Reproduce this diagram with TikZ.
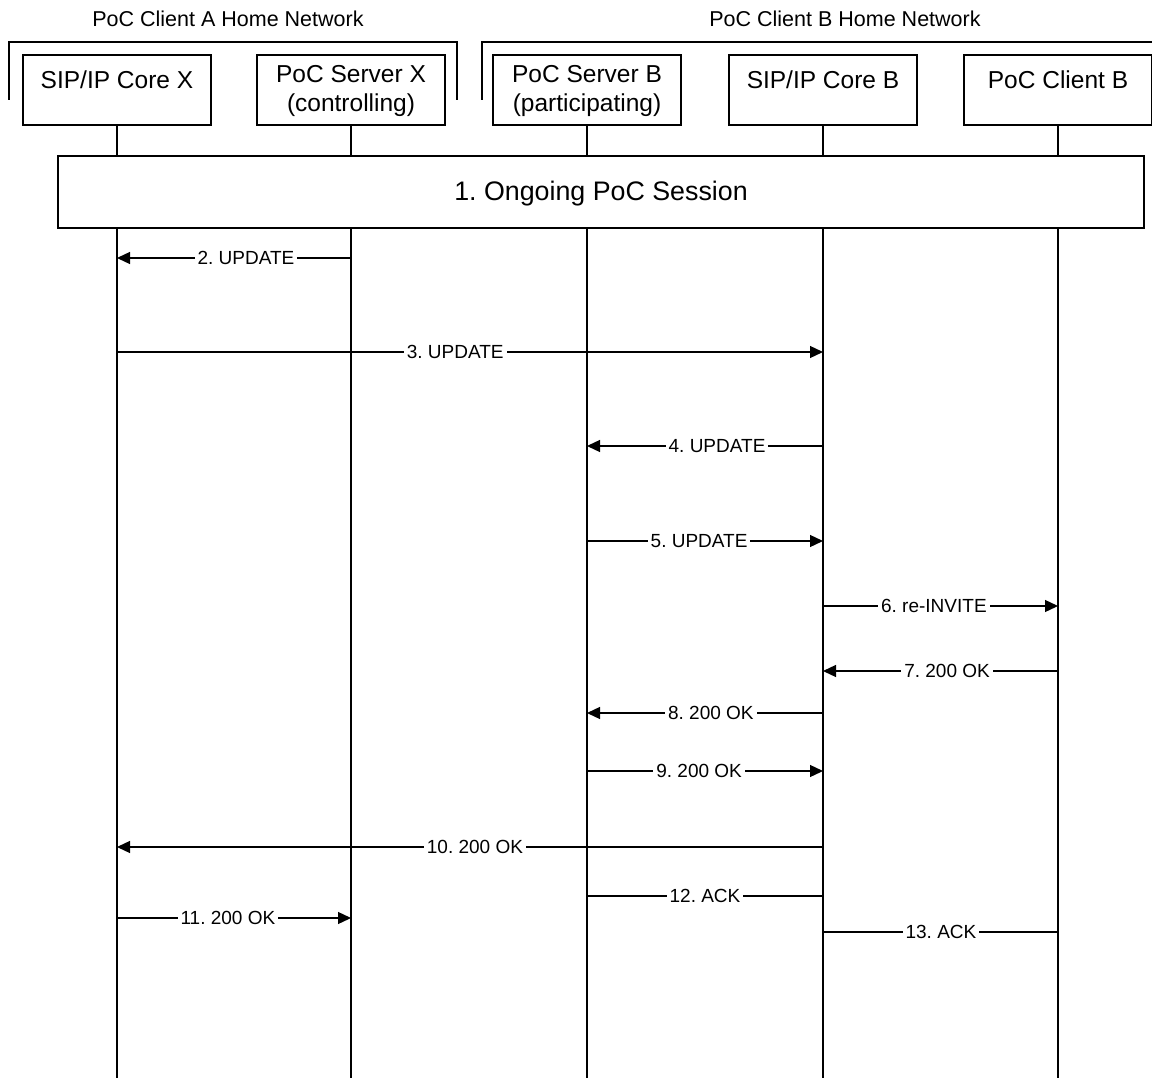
\documentclass[tikz,border=0pt]{standalone}
\usepackage{fontspec}
\setmainfont{Liberation Sans}
\usetikzlibrary{arrows.meta}
\frenchspacing
\tikzset{
  entbox/.style={draw, line width=1.5pt, minimum width=188pt, minimum height=70pt, inner sep=0pt},
  enttext/.style={anchor=base, inner sep=0pt, font=\fontsize{24.5}{28}\selectfont},
  nettext/.style={anchor=base, inner sep=0pt, font=\fontsize{21.5}{25}\selectfont},
  bracket/.style={line width=1.5pt},
  lifeline/.style={line width=1.5pt},
  sessbox/.style={draw, fill=white, line width=1.5pt, minimum width=1086pt, minimum height=72pt, inner sep=0pt},
  msg/.style={line width=1.3pt, -{Triangle[length=13pt,width=12pt]}},
  plainmsg/.style={line width=1.3pt},
  lbl/.style={fill=white, inner xsep=3pt, inner ysep=2pt, text height=13.6pt, text depth=0pt, font=\fontsize{19}{22}\selectfont}
}
\begin{document}
\begin{tikzpicture}[x=1pt,y=-1pt]
\useasboundingbox (0,0) rectangle (1152,1078);
% network titles
\node[nettext] (netA) at (228,27) {PoC Client A Home Network};
\node[nettext] (netB) at (845,27) {PoC Client B Home Network};
% brackets
\coordinate (brA1) at (9,100); \coordinate (brA2) at (9,42);
\coordinate (brA3) at (457,42); \coordinate (brA4) at (457,100);
\draw[bracket] (brA1) -- (brA2) -- (brA3) -- (brA4);
\coordinate (brB1) at (482,100); \coordinate (brB2) at (482,42);
\coordinate (brB3) at (1160,42);
\draw[bracket] (brB1) -- (brB2) -- (brB3);
% entity boxes
\node[entbox] (cx) at (117,90) {};
\node[entbox] (sx) at (351,90) {};
\node[entbox] (sb) at (587,90) {};
\node[entbox] (cb) at (823,90) {};
\node[entbox] (pb) at (1058,90) {};
\node[enttext] (cxt) at (117,89) {SIP/IP Core X};
\node[enttext] (sxt1) at (351,83) {PoC Server X};
\node[enttext] (sxt2) at (351,112) {(controlling)};
\node[enttext] (sbt1) at (587,83) {PoC Server B};
\node[enttext] (sbt2) at (587,112) {(participating)};
\node[enttext] (cbt) at (823,89) {SIP/IP Core B};
\node[enttext] (pbt) at (1058,89) {PoC Client B};
% lifeline ends
\coordinate (cxe) at (117,1080);
\coordinate (sxe) at (351,1080);
\coordinate (sbe) at (587,1080);
\coordinate (cbe) at (823,1080);
\coordinate (pbe) at (1058,1080);
\draw[lifeline] (cx.south) -- (cxe);
\draw[lifeline] (sx.south) -- (sxe);
\draw[lifeline] (sb.south) -- (sbe);
\draw[lifeline] (cb.south) -- (cbe);
\draw[lifeline] (pb.south) -- (pbe);
% session box
\node[sessbox] (sess) at (601,192) {};
\node[anchor=base, inner sep=0pt, font=\fontsize{26.8}{30}\selectfont] (sesst) at (601,201) {1. Ongoing PoC Session};
% message end points
\coordinate (m2a) at (351,258); \coordinate (m2b) at (117,258);
\coordinate (m3a) at (117,352); \coordinate (m3b) at (823,352);
\coordinate (m4a) at (823,446); \coordinate (m4b) at (587,446);
\coordinate (m5a) at (587,541); \coordinate (m5b) at (823,541);
\coordinate (m6a) at (823,606); \coordinate (m6b) at (1058,606);
\coordinate (m7a) at (1058,671); \coordinate (m7b) at (823,671);
\coordinate (m8a) at (823,713); \coordinate (m8b) at (587,713);
\coordinate (m9a) at (587,771); \coordinate (m9b) at (823,771);
\coordinate (m10a) at (823,847); \coordinate (m10b) at (117,847);
\coordinate (m12a) at (823,896); \coordinate (m12b) at (587,896);
\coordinate (m11a) at (117,918); \coordinate (m11b) at (351,918);
\coordinate (m13a) at (1058,932); \coordinate (m13b) at (823,932);
% messages
\draw[msg] (m2a) -- node[lbl, pos=0.449] (l2) {2. UPDATE} (m2b);
\draw[msg] (m3a) -- node[lbl, pos=0.479] (l3) {3. UPDATE} (m3b);
\draw[msg] (m4a) -- node[lbl, pos=0.449] (l4) {4. UPDATE} (m4b);
\draw[msg] (m5a) -- node[lbl, pos=0.475] (l5) {5. UPDATE} (m5b);
\draw[msg] (m6a) -- node[lbl, pos=0.472] (l6) {6. re-INVITE} (m6b);
\draw[msg] (m7a) -- node[lbl, pos=0.472] (l7) {7. 200 OK} (m7b);
\draw[msg] (m8a) -- node[lbl, pos=0.475] (l8) {8. 200 OK} (m8b);
\draw[msg] (m9a) -- node[lbl, pos=0.475] (l9) {9. 200 OK} (m9b);
\draw[msg] (m10a) -- node[lbl, pos=0.493] (l10) {10. 200 OK} (m10b);
\draw[plainmsg] (m12a) -- node[lbl, pos=0.5] (l12) {12. ACK} (m12b);
\draw[msg] (m11a) -- node[lbl, pos=0.474] (l11) {11. 200 OK} (m11b);
\draw[plainmsg] (m13a) -- node[lbl, pos=0.498] (l13) {13. ACK} (m13b);
\end{tikzpicture}
\end{document}
